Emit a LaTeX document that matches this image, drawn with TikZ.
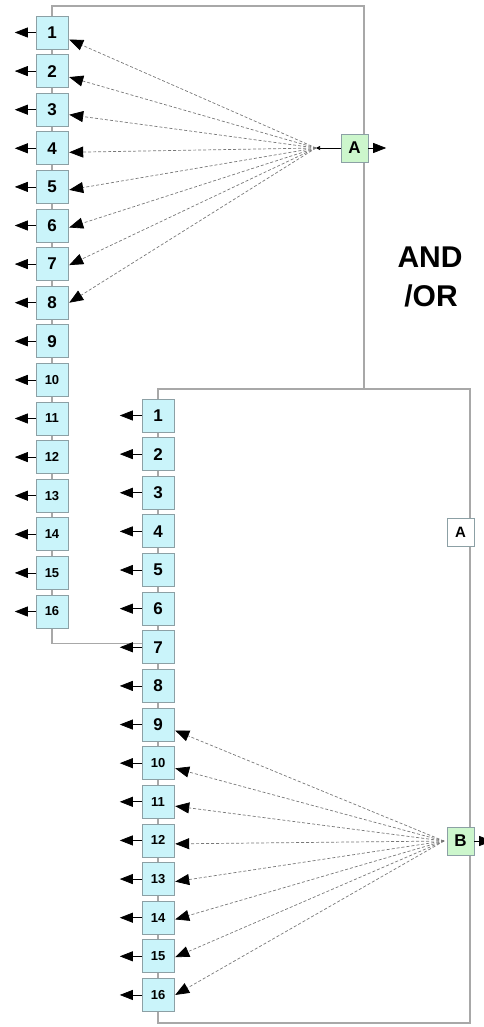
\documentclass[tikz,border=0pt]{standalone}
\usepackage{fontspec}
\setmainfont{Liberation Sans}
\usetikzlibrary{arrows.meta,calc}
\definecolor{boxcyan}{RGB}{202,244,250}
\definecolor{boxedge}{RGB}{140,160,165}
\definecolor{boxgreen}{RGB}{204,246,204}
\definecolor{frame}{RGB}{168,168,168}
\definecolor{dashgray}{RGB}{120,120,120}
\tikzset{
  numbox/.style={draw=boxedge, fill=boxcyan, line width=0.8pt, minimum width=32pt, minimum height=33pt, inner sep=0pt, font=\bfseries\fontsize{17}{17}\selectfont},
  smallnum/.style={font=\bfseries\fontsize{13}{13}\selectfont},
  gatebox/.style={draw=boxedge, fill=boxgreen, line width=0.8pt, minimum width=27pt, minimum height=28pt, inner sep=0pt, font=\bfseries\fontsize{17}{17}\selectfont},
  whitebox/.style={draw=boxedge, fill=white, line width=0.8pt, minimum width=27pt, minimum height=28pt, inner sep=0pt, font=\bfseries\fontsize{15}{15}\selectfont},
  frameline/.style={draw=frame, line width=1.1pt},
  outarrow/.style={draw=black, line width=0.7pt, -{Triangle[length=13pt,width=10pt]}},
  fanarrow/.style={draw=dashgray, line width=0.7pt, dash pattern=on 3pt off 2pt, -{Triangle[length=14pt,width=11pt,color=black,fill=black]}},
  bigtext/.style={font=\bfseries\fontsize{30}{30}\selectfont}
}
\begin{document}
\begin{tikzpicture}[x=1pt,y=-1pt]
\useasboundingbox (0,0) rectangle (483,1027);
% node positions (invisible placeholders)
\foreach \i in {1,...,16}{
  \pgfmathsetmacro{\ty}{32.5+38.6*(\i-1)}
  \pgfmathsetmacro{\by}{415.5+38.63*(\i-1)}
  \node[minimum width=32pt, minimum height=33pt, inner sep=0pt] (t\i) at (52,\ty) {};
  \node[minimum width=32pt, minimum height=33pt, inner sep=0pt] (b\i) at (158,\by) {};
}
\node[minimum width=27pt, minimum height=28pt, inner sep=0pt] (A) at (354.5,148) {};
\node[minimum width=27pt, minimum height=28pt, inner sep=0pt] (B) at (460.5,841) {};
\node[minimum width=27pt, minimum height=28pt, inner sep=0pt] (A2) at (460.5,532) {};
\coordinate (ca) at (316,148);
\coordinate (cb) at (444,841);
% frame lines
\path[frameline] (t1.north) -- (52,6) -- (364,6) -- (364,389);
\path[frameline] (b1.north) -- (158,389) -- (470,389) -- (470,1023) -- (158,1023) -- (b16.south);
\path[frameline] (t16.south) |- ([yshift=4pt]b7.west);
\foreach \i [evaluate=\i as \j using int(\i+1)] in {1,...,15}{
  \path[frameline] (t\i.south) -- (t\j.north);
  \path[frameline] (b\i.south) -- (b\j.north);
}
% visible boxes
\foreach \i in {1,...,16}{
  \ifnum\i<10
    \node[numbox] (tb\i) at (t\i) {\i};
    \node[numbox] (bb\i) at (b\i) {\i};
  \else
    \node[numbox,smallnum] (tb\i) at (t\i) {\i};
    \node[numbox,smallnum] (bb\i) at (b\i) {\i};
  \fi
}
\node[gatebox] (Ab) at (A) {A};
\node[gatebox] (Bb) at (B) {B};
\node[whitebox] (A2b) at (A2) {A};
\node[bigtext] (andor1) at (430,257) {AND};
\node[bigtext] (andor2) at (431,296) {/OR};
% output arrows to the left
\foreach \i in {1,...,16}{
  \draw[outarrow] (t\i.west) -- ++(-21,0);
  \draw[outarrow] (b\i.west) -- ++(-22,0);
}
% outputs of gates
\draw[outarrow] (A.east) -- ++(18,0);
\draw[outarrow] (B.east) -- ++(18,0);
% fans
\draw[line width=0.6pt, -{Triangle[length=4pt,width=4pt]}] (A.west) -- (ca);
\foreach \i in {1,...,8}{
  \pgfmathsetmacro{\off}{8-\i}
  \draw[fanarrow] (ca) -- ([yshift=-\off pt,xshift=1pt]t\i.east);
}
\foreach \i in {9,...,16}{
  \pgfmathsetmacro{\off}{6-(\i-9)*6/7}
  \draw[fanarrow] (cb) -- ([yshift=-\off pt,xshift=1pt]b\i.east);
}
\end{tikzpicture}
\end{document}
